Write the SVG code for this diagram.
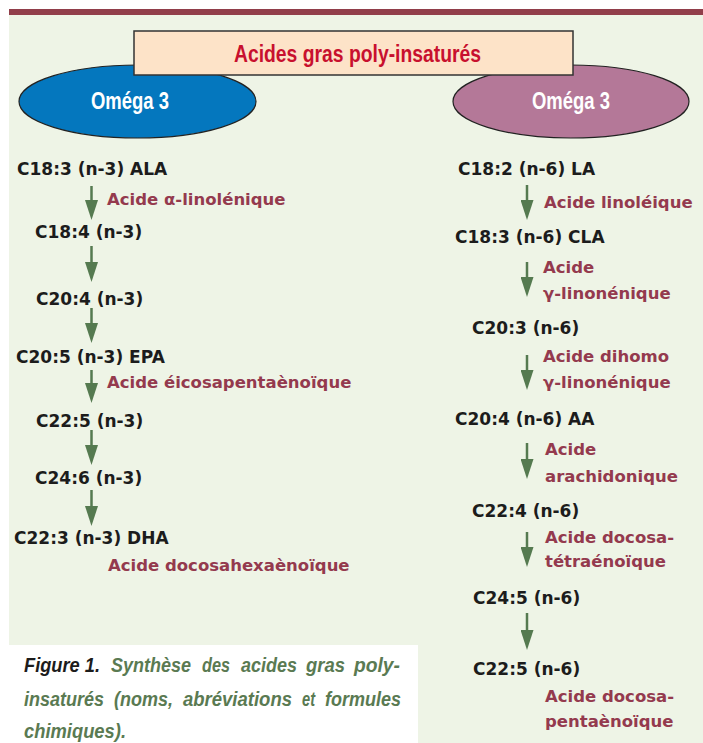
<svg xmlns="http://www.w3.org/2000/svg" width="703" height="743" viewBox="0 0 703 743">
<style>
.lab{font-family:"DejaVu Sans","Liberation Sans",sans-serif;font-weight:bold;font-size:17px;fill:#1c1c1c}
.nm{font-family:"DejaVu Sans","Liberation Sans",sans-serif;font-weight:bold;font-size:16.5px;fill:#943a4e}
.om{font-family:"Liberation Sans",Arial,sans-serif;font-weight:bold;font-size:23px;fill:#ffffff}
.ttl{font-family:"Liberation Sans",Arial,sans-serif;font-weight:bold;font-size:23px;fill:#c8102e}
.cap{font-family:"Liberation Sans",Arial,sans-serif;font-weight:bold;font-style:italic;font-size:20px;fill:#5a7a52}
.arr{stroke:#557a50;stroke-width:2.5;fill:none;marker-end:url(#ah)}
</style>
<defs>
<marker id="ah" markerUnits="userSpaceOnUse" viewBox="0 0 20 13" refX="2" refY="6.5" markerWidth="20" markerHeight="13" orient="auto">
<path d="M0,0 L20,6.5 L0,13 z" fill="#557a50"/>
</marker>
</defs>
<rect x="0" y="0" width="703" height="743" fill="#ffffff"/>
<rect x="9" y="15" width="694" height="728" fill="#eef4e6"/>
<rect x="9" y="645" width="409" height="98" fill="#ffffff"/>
<rect x="9" y="9" width="694" height="6" fill="#913e4a"/>

<g id="omega3-left">
<ellipse cx="137.5" cy="101.5" rx="118.5" ry="36.5" fill="#0477be" stroke="#222" stroke-width="1.2"/>
<text class="om" x="91" y="109" textLength="78" lengthAdjust="spacingAndGlyphs">Oméga 3</text>
</g>
<g id="omega3-right">
<ellipse cx="571" cy="101.5" rx="118" ry="36.5" fill="#b47898" stroke="#222" stroke-width="1.2"/>
<text class="om" x="532" y="109" textLength="78" lengthAdjust="spacingAndGlyphs">Oméga 3</text>
</g>
<g id="title">
<rect x="134" y="31" width="439" height="44" fill="#fde3c8" stroke="#333" stroke-width="1.5"/>
<text class="ttl" x="234" y="62" textLength="247" lengthAdjust="spacingAndGlyphs">Acides gras poly-insaturés</text>
</g>

<g id="connectors">
<path class="arr" d="M91.5,186 V202"/>
<path class="arr" d="M91.5,246 V264"/>
<path class="arr" d="M91.5,308 V325"/>
<path class="arr" d="M91.5,370 V385"/>
<path class="arr" d="M91.5,430 V447"/>
<path class="arr" d="M91.5,490 V508"/>
<path class="arr" d="M527,185 V202"/>
<path class="arr" d="M527,262 V279"/>
<path class="arr" d="M527,355 V372"/>
<path class="arr" d="M527,443 V461"/>
<path class="arr" d="M527,532 V549"/>
<path class="arr" d="M527,613 V632"/>
</g>

<g id="n3-1"><text class="lab" x="17" y="175">C18:3 (n-3) ALA</text><text class="nm" x="107" y="205">Acide α-linolénique</text></g>
<g id="n3-2"><text class="lab" x="35" y="238">C18:4 (n-3)</text></g>
<g id="n3-3"><text class="lab" x="36" y="305">C20:4 (n-3)</text></g>
<g id="n3-4"><text class="lab" x="16" y="363">C20:5 (n-3) EPA</text><text class="nm" x="107" y="388">Acide éicosapentaènoïque</text></g>
<g id="n3-5"><text class="lab" x="36" y="427">C22:5 (n-3)</text></g>
<g id="n3-6"><text class="lab" x="35" y="484">C24:6 (n-3)</text></g>
<g id="n3-7"><text class="lab" x="14" y="544">C22:3 (n-3) DHA</text><text class="nm" x="108" y="571">Acide docosahexaènoïque</text></g>

<g id="n6-1"><text class="lab" x="458" y="175">C18:2 (n-6) LA</text><text class="nm" x="544" y="208">Acide linoléique</text></g>
<g id="n6-2"><text class="lab" x="455" y="243">C18:3 (n-6) CLA</text><text class="nm" x="543" y="273">Acide</text><text class="nm" x="543" y="299">γ-linonénique</text></g>
<g id="n6-3"><text class="lab" x="472" y="334">C20:3 (n-6)</text><text class="nm" x="543" y="362">Acide dihomo</text><text class="nm" x="543" y="388">γ-linonénique</text></g>
<g id="n6-4"><text class="lab" x="455" y="425">C20:4 (n-6) AA</text><text class="nm" x="545" y="455">Acide</text><text class="nm" x="545" y="482">arachidonique</text></g>
<g id="n6-5"><text class="lab" x="472" y="517">C22:4 (n-6)</text><text class="nm" x="545" y="543">Acide docosa-</text><text class="nm" x="545" y="567">tétraénoïque</text></g>
<g id="n6-6"><text class="lab" x="473" y="604">C24:5 (n-6)</text></g>
<g id="n6-7"><text class="lab" x="473" y="675">C22:5 (n-6)</text><text class="nm" x="545" y="702">Acide docosa-</text><text class="nm" x="545" y="727">pentaènoïque</text></g>

<g id="caption">
<text class="cap" y="672"><tspan x="24" fill="#1c1c1c" textLength="76" lengthAdjust="spacingAndGlyphs">Figure 1.</tspan><tspan x="111" textLength="80" lengthAdjust="spacingAndGlyphs">Synthèse</tspan><tspan x="202" textLength="28" lengthAdjust="spacingAndGlyphs">des</tspan><tspan x="241" textLength="56" lengthAdjust="spacingAndGlyphs">acides</tspan><tspan x="306" textLength="39" lengthAdjust="spacingAndGlyphs">gras</tspan><tspan x="354" textLength="46" lengthAdjust="spacingAndGlyphs">poly-</tspan></text>
<text class="cap" y="706"><tspan x="24" textLength="80" lengthAdjust="spacingAndGlyphs">insaturés</tspan><tspan x="114" textLength="59" lengthAdjust="spacingAndGlyphs">(noms,</tspan><tspan x="183" textLength="109" lengthAdjust="spacingAndGlyphs">abréviations</tspan><tspan x="302" textLength="13" lengthAdjust="spacingAndGlyphs">et</tspan><tspan x="325" textLength="76" lengthAdjust="spacingAndGlyphs">formules</tspan></text>
<text class="cap" y="738"><tspan x="24" textLength="102" lengthAdjust="spacingAndGlyphs">chimiques).</tspan></text>
</g>
</svg>
